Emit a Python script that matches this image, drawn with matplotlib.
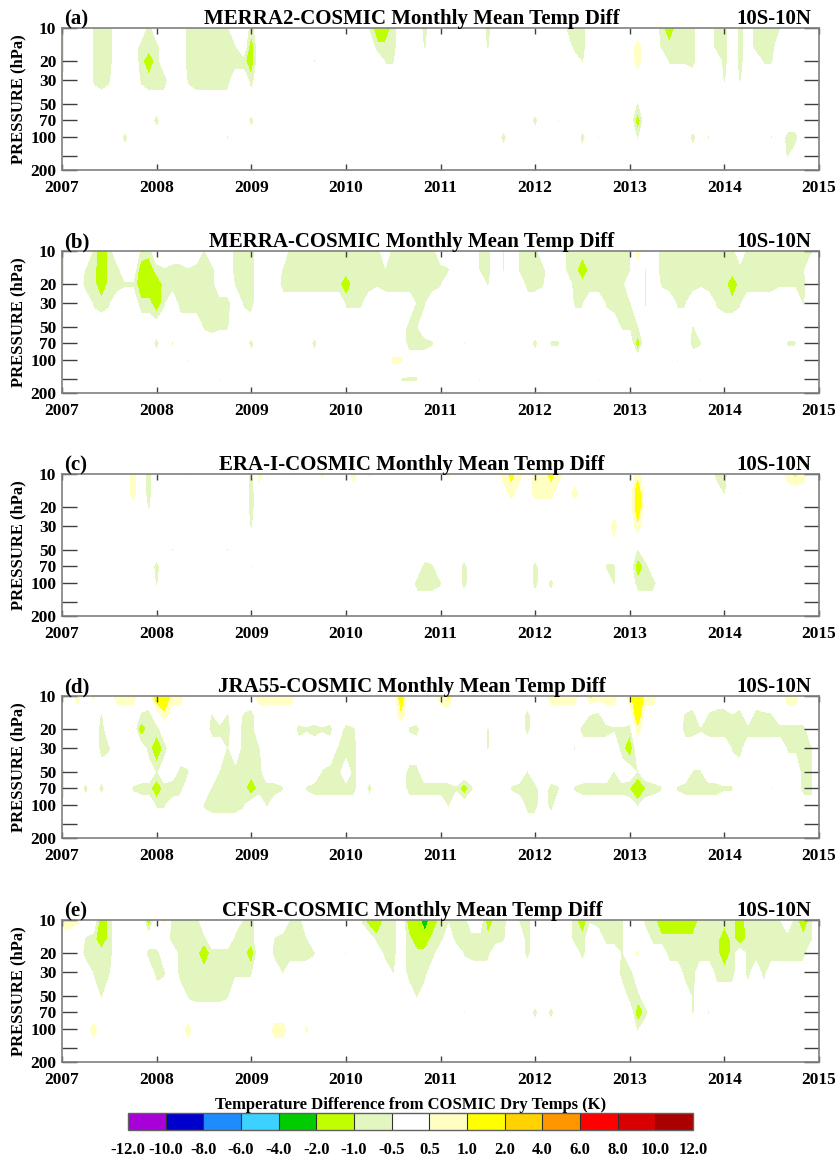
import numpy as np
import matplotlib.pyplot as plt
from matplotlib.colors import ListedColormap, BoundaryNorm
from matplotlib.ticker import NullLocator
import matplotlib as mpl

plt.rcParams['font.family'] = ['Liberation Serif', 'DejaVu Serif']
plt.rcParams['font.weight'] = 'bold'

# Grid: monthly from Jan 2007 to Dec 2014, pressure levels (hPa)
months = 2007 + np.arange(96) / 12.0
plevs = [10, 15, 20, 30, 50, 70, 100, 150, 200]

# Contour levels and colours
bounds = [-12, -10, -8, -6, -4, -2, -1, -0.5, 0.5, 1, 2, 4, 6, 8, 10, 12]
bound_labels = ['-12.0', '-10.0', '-8.0', '-6.0', '-4.0', '-2.0', '-1.0', '-0.5',
                '0.5', '1.0', '2.0', '4.0', '6.0', '8.0', '10.0', '12.0']
colors = ['#a800d8', '#0000cc', '#1e8cff', '#3cd2ff', '#00cc00', '#c0ff00',
          '#e4f6c0', '#ffffff', '#ffffc4', '#ffff00', '#ffd200', '#ff9600',
          '#ff0000', '#d80000', '#aa0000']

# Value read for a grid cell: key -> temperature difference (K)
codes = {'-': -0.6, 'g': -0.8, 'h': -1.05, 'G': -1.5, 'H': -1.9, 'D': -2.6,
         'z': 0.6, 'y': 0.8, 'w': 1.1, 'Y': 1.5}

# Non-zero cells, per pressure level: "month_index + code"
merra2 = {
    10: "0g 4- 5g 6g 11g 16g 17g 18g 19g 20g 21- 24g 36- 39- 40G 41G 42g 46g 54g 59- 64- 65g 66g "
        "76g 77G 78g 79g 80g 83g 84g 86g 88g 89g 90g 91-",
    15: "0g 4- 5g 6g 10g 11g 12g 16g 17g 18g 19g 20g 21- 22- 24G 40g 41g 42g 46- 54- 65g 66g 73y "
        "76- 77g 78g 79g 80g 83g 84g 86g 88g 89g 90g",
    20: "0g 4- 5g 6g 10g 11G 12g 16g 17g 18g 19g 20g 21g 22g 23g 24G 32- 41- 42- 66- 73y 77- 78- "
        "79- 80g 84g 86g 89- 90-",
    30: "0- 4- 5g 6- 10- 11g 12g 13g 16- 17g 18g 19g 20g 21g 24g 84- 86-",
    50: "73-",
    70: "0- 12g 24g 60g 63- 73G",
    100: "8g 21- 56g 66g 68- 73- 80g 82- 90- 92g 93g",
    150: "92-",
}

merra = {
    10: "0g 4- 5G 6g 10- 11g 18- 22g 23g 24g 29g 30g 31g 32g 33g 34g 35g 36- 37- 38g 39g 40g 42g "
        "43g 44g 45g 46g 47g 53- 54g 56- 58- 59g 60g 64- 65g 66g 67g 68g 69g 70g 71g 72- 73y 76g "
        "77g 78g 79g 80g 81- 82g 83g 84g 85g 87g 88g 89g 90g 91g 92g 93g 94g 95-",
    15: "0g 3- 4g 5G 6g 7g 10G 11G 12g 13- 14g 15g 16- 17g 18g 19g 22g 23g 24g 28- 29g 30g 31g "
        "32g 33g 34g 35g 36g 37g 38g 39g 40g 41- 42g 43g 44g 45g 46g 47g 48g 49- 53- 54g 56- 58- "
        "59g 60g 61g 64- 65g 66G 67g 68g 69g 70g 71g 72- 74- 76g 77g 78g 79g 80g 81g 82g 83g 84g "
        "85g 86g 87g 88g 89g 90g 91g 92g 93g 94-",
    20: "0g 3g 4g 5G 6g 7g 8- 9- 10G 11G 12G 13g 14g 15g 16g 17g 18g 19g 22- 23g 24g 28g 29g 30g "
        "31g 32g 33g 34g 35g 36G 37g 38g 39g 40- 41g 42g 43g 44g 45g 46g 47g 48- 54- 59g 60g 61- "
        "65g 66g 67g 68g 69g 70g 71g 74- 76- 77g 78g 79g 80g 81- 82g 83g 84g 85G 86g 87g 88g 89g "
        "90g 91- 92- 93- 94g",
    30: "4- 5g 6- 10g 11g 12G 13- 15g 16g 17g 18g 19g 20g 21g 23- 24g 36- 37- 38- 45- 46- 65- "
        "66- 69- 70g 71g 72- 74- 78- 79- 83- 84g 85g 86- 94-",
    50: "18- 19g 20- 21- 44g 45- 71- 72- 73- 80-",
    70: "0- 12g 14- 24g 32g 44g 45g 46g 47- 51- 60g 62- 63- 73G 80g 81- 92- 93-",
    100: "16- 42z 43z 78-",
    150: "6- 20- 43- 44- 45- 53- 68- 81-",
}

erai = {
    10: "9y 11g 16- 24g 25y 29- 33z 37y 39- 49z 56y 57w 58y 60y 61y 62w 63y 73y 83g 84g 92y 93w 94y",
    15: "9y 11g 24g 57y 60y 61y 62y 65y 73Y 84- 86-",
    20: "11- 24g 73Y",
    30: "24- 70y 73y",
    50: "14- 21- 73-",
    70: "0- 12g 24- 46g 47- 51g 60g 69- 70- 73G 74g",
    100: "0- 12- 45g 46g 47g 48- 51g 60g 62g 70- 73g 74g 75g",
}

jra55 = {
    10: "2y 4z 7y 8y 9y 12Y 13Y 14y 15y 25y 26y 27y 28y 29y 43Y 48y 49w 62y 63y 64y 65y 67w 68y "
        "69y 70y 72y 73Y 74y 75y 85z 89z 92y 93y",
    15: "5- 10- 11g 13y 19- 21- 23- 24g 43y 59g 67- 68g 73Y 79- 80g 82- 83g 84g 85- 86g 88g 89g 90-",
    20: "5g 10G 11g 12g 19g 20g 21g 23g 24g 30g 31- 32g 33- 34g 36g 37- 44- 45g 54- 59g 66g 67g "
        "68g 69g 70- 71- 72g 73y 79g 80g 81- 82g 83g 84g 85g 86g 87g 88g 89g 90g 91g 92g 93g 94g",
    30: "5g 6- 8- 11g 12G 13g 21- 23g 24g 25- 35- 36g 37g 54- 65- 71g 72G 85- 86g 92- 93- 94g 95-",
    50: "0g 12- 15g 16- 20- 21g 22g 23g 24g 25g 33- 34g 35g 37g 44g 45g 59- 70- 73- 80- 81- 94g 95g",
    70: "0g 3g 5g 9- 10g 11g 12G 13g 14h 15g 19- 20g 21g 22g 23g 24G 25g 26g 27g 28- 31- 32g 33g "
        "34g 35g 36g 37g 39g 44g 45g 46g 47g 48g 49g 50- 51G 52- 57- 58g 59g 60g 62g 63- 65- 66g "
        "67g 68g 69g 70g 71g 72h 73H 74h 75g 76- 78- 79g 80g 81g 82g 83g 84- 85- 90- 94g 95g",
    100: "0- 12- 13- 18- 19g 20g 21g 22g 23- 26- 49- 59g 60g 62g 73-",
}

cfsr = {
    10: "0y 1y 2z 5G 6g 11G 13z 14g 15g 16g 17g 23- 24g 29- 30g 38- 39G 40G 41g 42g 44G 45G 46D "
        "47G 48g 49- 50g 51g 54G 55g 56g 58- 59g 65g 66G 67- 68g 69g 70g 71- 74g 75g 76G 77G 78G "
        "79G 80G 81g 82g 83g 84g 85g 86G 87- 88g 89g 90- 91- 93g 94G 95g",
    15: "3- 4g 5G 6g 14g 15g 16g 17g 18g 22g 23g 24g 27- 28g 29g 30g 31- 40g 41g 42g 44g 45G 46G "
        "47g 48g 50g 51g 52g 53g 54g 55g 56- 59g 65g 66g 69g 70g 71- 75g 76g 77g 78g 79g 80g 81g "
        "82g 83g 84G 85g 86G 87g 88g 89g 90g 91g 92g 93g 94g 95-",
    20: "3g 4g 5g 6g 11g 12g 15g 16g 17g 18G 19g 20g 21g 22g 23g 24G 27g 28g 29g 30g 31g 32- 36- "
        "41g 42g 44g 45g 46g 47g 51- 52g 53g 54g 59g 66g 71- 73z 77g 78g 79g 80g 81g 82g 83g 84G "
        "85g 87g 88g 89g 90g 91g 92g 93g 94g",
    30: "4- 5g 6- 12g 13- 15g 16g 17g 18g 19g 20g 21g 22- 23- 24- 28- 42- 44g 45g 46g 71g 72g 79g "
        "80g 83g 84g 85g 87g 89g",
    50: "5- 16- 17g 18g 19g 20g 21- 45- 72g 73g 80-",
    70: "51- 60g 62g 73G 74g 80- 82-",
    100: "4y 16y 27y 28y 31z 73-",
}

panels = [
    ('(a)', 'MERRA2-COSMIC Monthly Mean Temp Diff', merra2),
    ('(b)', 'MERRA-COSMIC Monthly Mean Temp Diff', merra),
    ('(c)', 'ERA-I-COSMIC Monthly Mean Temp Diff', erai),
    ('(d)', 'JRA55-COSMIC Monthly Mean Temp Diff', jra55),
    ('(e)', 'CFSR-COSMIC Monthly Mean Temp Diff', cfsr),
]
region = '10S-10N'
years = list(range(2007, 2016))
ptick = [10, 20, 30, 50, 70, 100, 150, 200]
ptick_labels = ['10', '20', '30', '50', '70', '100', '', '200']


def make_grid(spec):
    z = np.zeros((len(plevs), len(months)))
    for k, p in enumerate(plevs):
        for tok in spec.get(p, "").split():
            z[k, int(tok[:-1])] = codes[tok[-1]]
    return z


cmap = ListedColormap(colors)
norm = BoundaryNorm(bounds, cmap.N)

W, H = 835, 1157
fig = plt.figure(figsize=(W / 100, H / 100), dpi=100)

tops = [28, 251, 474, 696, 920]
ax_h = 142
left, right = 62, 819

for (tag, title, spec), top in zip(panels, tops):
    ax = fig.add_axes([left / W, 1 - (top + ax_h) / H, (right - left) / W, ax_h / H])
    z = make_grid(spec)
    ax.contourf(months, plevs, z, levels=bounds, cmap=cmap, norm=norm)
    ax.set_yscale('log')
    ax.set_ylim(200, 10)
    ax.set_xlim(2007, 2015)
    ax.yaxis.set_minor_locator(NullLocator())
    ax.set_yticks(ptick)
    ax.set_yticklabels(ptick_labels)
    ax.set_xticks(years)
    ax.set_xticklabels([str(y) for y in years])
    ax.tick_params(axis='y', direction='in', length=11, width=1, left=True, right=True,
                   labelsize=12.5, pad=4, color='#404040')
    ax.tick_params(axis='x', direction='in', length=4, width=1, top=True, bottom=True,
                   labelsize=12.5, pad=7, color='#404040')
    for s in ax.spines.values():
        s.set_color('#808080')
        s.set_linewidth(1.2)
    ax.set_ylabel('PRESSURE (hPa)', fontsize=12, fontweight='bold', labelpad=3)
    ax.text(0.003, 1.025, tag, transform=ax.transAxes, fontsize=15, fontweight='bold',
            ha='left', va='baseline')
    # main title is centred on the page rather than on the axes
    ax.text((412 - left) / (right - left), 1.025, title, transform=ax.transAxes,
            fontsize=15, fontweight='bold', ha='center', va='baseline')
    ax.text(0.99, 1.025, region, transform=ax.transAxes, fontsize=15, fontweight='bold',
            ha='right', va='baseline')

# Colour bar
cax = fig.add_axes([128 / W, 1 - 1130 / H, (693 - 128) / W, 17 / H])
sm = mpl.cm.ScalarMappable(cmap=cmap, norm=norm)
cb = fig.colorbar(sm, cax=cax, orientation='horizontal', spacing='uniform',
                  ticks=bounds, drawedges=True)
cb.outline.set_color('#606060')
cb.outline.set_linewidth(1)
cb.dividers.set_color('#303030')
cb.dividers.set_linewidth(0.8)
cb.ax.set_xticklabels(bound_labels)
cb.ax.tick_params(length=0, labelsize=12, pad=9)
cb.ax.set_title('Temperature Difference from COSMIC Dry Temps (K)', fontsize=12,
                fontweight='bold', pad=3)

fig.savefig('out.png', dpi=100)
